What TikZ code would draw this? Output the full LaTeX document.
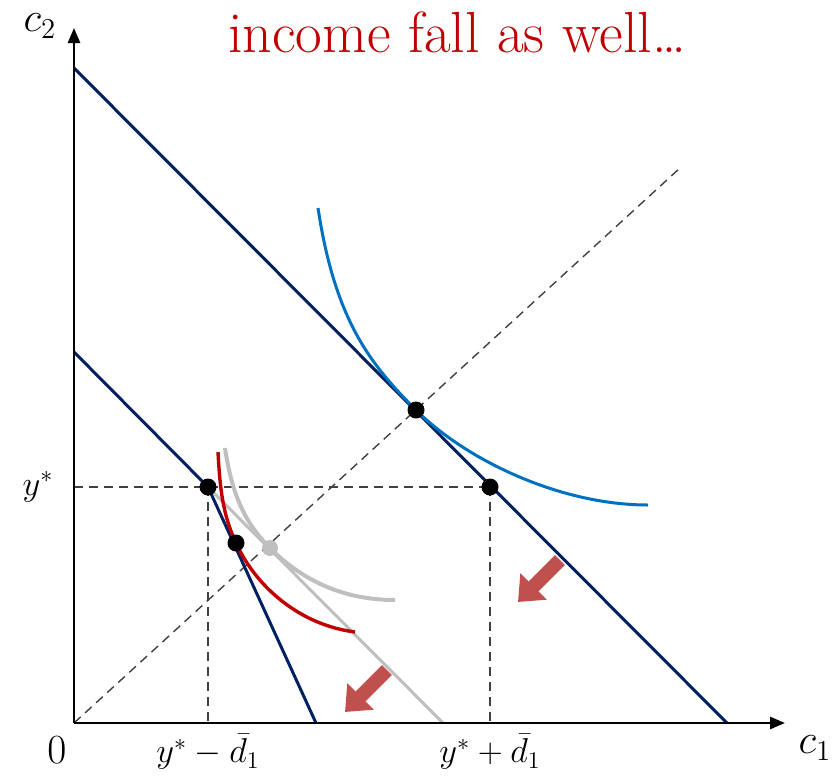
\documentclass[tikz,border=0pt]{standalone}
\usepackage{tikz}
\usetikzlibrary{arrows.meta}
\usepackage{amsmath,amssymb}
\definecolor{bcnavy}{HTML}{002060}
\definecolor{icblue}{HTML}{0070C0}
\definecolor{icred}{HTML}{C00000}
\definecolor{icgray}{HTML}{BFBFBF}
\definecolor{shiftred}{HTML}{C0504D}
\definecolor{guide}{HTML}{404040}

\begin{document}
\begin{tikzpicture}[
  x=0.5pt, y=-0.5pt,
  axis/.style={line width=1.3pt, -{Triangle[length=7.5pt, width=6pt]}},
  budget/.style={bcnavy, line width=1.5pt},
  guideline/.style={guide, line width=0.7pt, dash pattern=on 4.5pt off 3pt},
  dot/.style={circle, fill=black, inner sep=0pt, minimum size=8.5pt},
  graydot/.style={circle, fill=icgray, inner sep=0pt, minimum size=8pt},
  shiftarrow/.style={shiftred, line width=7pt,
    -{Triangle[length=11pt, width=18pt]}},
  axlabel/.style={font=\fontsize{22}{26}\selectfont},
  ticklabel/.style={font=\fontsize{17}{20}\selectfont}
]
  \useasboundingbox (0,0) rectangle (840,777);

  % points
  \coordinate (O) at (74,723);
  \coordinate (ytop) at (74,28);
  \coordinate (xend) at (785,723);
  \coordinate (outtop) at (74,68);
  \coordinate (outbot) at (727,723);
  \coordinate (intop) at (74,352);
  \coordinate (inbot) at (316,723);
  \coordinate (graybot) at (443,723);
  \coordinate (diag) at (680,168);
  \coordinate (ylev) at (74,487);
  \coordinate (lowfoot) at (208,723);
  \coordinate (highfoot) at (490,723);

  % guide lines
  \draw[guideline] (O) -- (diag);
  \draw[guideline] (ylev) -- (490,487);
  \draw[guideline] (208,487) -- (lowfoot);
  \draw[guideline] (490,487) -- (highfoot);

  % budget lines
  \draw[budget] (outtop) -- (outbot);
  \draw[icgray, line width=1.5pt] (208,487) -- (graybot);
  \draw[budget] (intop) -- (208,487) -- (inbot);

  % indifference curves
  \draw[icblue, line width=1.5pt] (318,208) .. controls (335,320) and (370,364) .. (416,410)
    .. controls (466,460) and (560,505) .. (648,505);
  \draw[icgray, line width=2pt] (225,448) .. controls (232,495) and (245,523) .. (270,548)
    .. controls (300,578) and (340,600) .. (395,600);
  \draw[icred, line width=1.7pt] (218,452) .. controls (220,490) and (223,515) .. (236,543)
    .. controls (256,587) and (300,625) .. (355,632);

  % axes
  \draw[axis] (O) -- (ytop);
  \draw[axis] (O) -- (xend);

  % points on the lines
  \node[graydot] (pg) at (270,548) {};
  \node[dot] (pe) at (416,410) {};
  \node[dot] (pa) at (208,487) {};
  \node[dot] (pb) at (490,487) {};
  \node[dot] (pc) at (236,543) {};

  % shifts
  \coordinate (s1a) at (560,560);
  \coordinate (s1b) at (518,602);
  \coordinate (s2a) at (387,670);
  \coordinate (s2b) at (345,712);
  \draw[shiftarrow] (s1a) -- (s1b);
  \draw[shiftarrow] (s2a) -- (s2b);

  % labels
  \node[font=\fontsize{29}{34}\selectfont, text=icred] (title) at (457,32)
    {income fall as well\ldots};
  \node[axlabel] (lc2) at (40,26) {$c_2$};
  \node[axlabel] (lc1) at (815,748) {$c_1$};
  \node[axlabel] (l0) at (57,750) {$0$};
  \node[ticklabel] (lys) at (38,487) {$y^*$};
  \node[ticklabel] (lmin) at (208,752) {$y^*-\bar{d}_1$};
  \node[ticklabel] (lplus) at (490,752) {$y^*+\bar{d}_1$};
\end{tikzpicture}
\end{document}
